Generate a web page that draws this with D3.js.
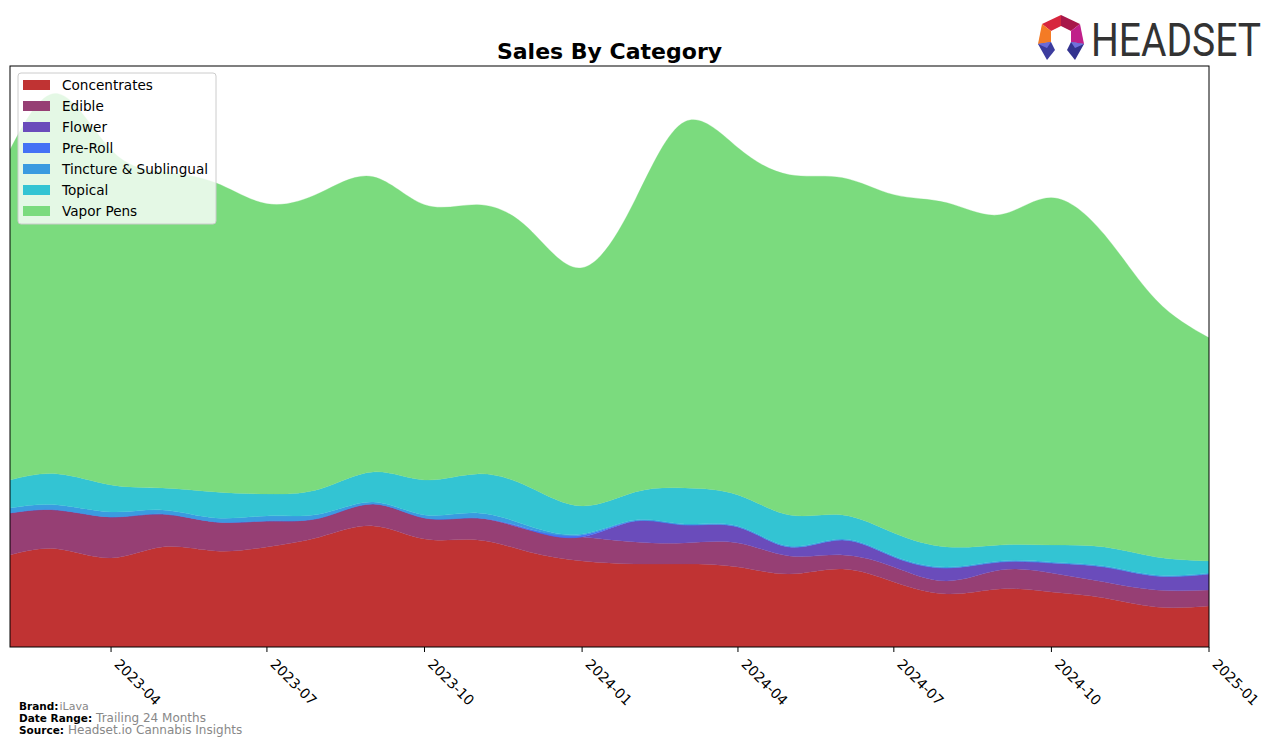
<!DOCTYPE html>
<html>
<head>
<meta charset="utf-8">
<script src="https://cdn.jsdelivr.net/npm/d3@7/dist/d3.min.js"></script>
<style>
  body { margin: 0; background: #fff; }
  svg { display: block; font-family: "DejaVu Sans", sans-serif; }
</style>
</head>
<body>
<svg id="chart" width="1276" height="746"></svg>
<script>
// ---- data ----
const months = ["2023-02","2023-03","2023-04","2023-05","2023-06","2023-07","2023-08","2023-09","2023-10","2023-11","2023-12","2024-01",
                "2024-02","2024-03","2024-04","2024-05","2024-06","2024-07","2024-08","2024-09","2024-10","2024-11","2024-12","2025-01"];
const categories = ["Concentrates","Edible","Flower","Pre-Roll","Tincture & Sublingual","Topical","Vapor Pens"];
const concentrates = [92, 98, 89,100, 96,100,110,121,108,107, 95, 86, 83, 83, 80, 73, 78, 65, 53, 58, 55, 49, 40, 41];
const edible       = [42, 39, 41, 33, 29, 26, 19, 22, 21, 22, 22, 24, 22, 21, 24, 18, 14, 15, 13, 19, 19, 16, 17, 16];
const flower       = [ 0,  0,  0,  0,  0,  0,  0,  0,  0,  0,  0,  0, 21, 18, 16,  9, 15, 10, 13,  8, 10, 15, 14, 16];
const preRoll      = [ 0,  0,  0,  0,  0,  0,  0,  0,  0,  0,  1,  2,  0,  0,  0,  0,  0,  0,  0,  0,  0,  0,  0,  0];
const tincture     = [ 5,  5,  5,  4,  4,  5,  4,  2,  3,  5,  3,  1,  1,  1,  1,  1,  1,  1,  1,  1,  1,  1,  1,  1];
const topical      = [28, 31, 27, 22, 26, 22, 25, 30, 35, 39, 39, 28, 28, 36, 31, 31, 24, 23, 20, 16, 17, 19, 18, 12];
const vaporPens    = [330,380,335,316,309,290,296,295,275,269,258,238,292,366,347,340,337,338,344,330,347,312,257,223];
const tickLabels = ["2023-04","2023-07","2023-10","2024-01","2024-04","2024-07","2024-10","2025-01"];
const colors = ["#c03333","#963f74","#6a4cbb","#4472f5","#3a9be0","#33c4d3","#7bdb7e"];

// ---- build table ----
const seriesArr = [concentrates, edible, flower, preRoll, tincture, topical, vaporPens];
const parse = d3.utcParse("%Y-%m");
const table = months.map((m, i) => {
  const row = { date: parse(m) };
  categories.forEach((c, k) => row[c] = seriesArr[k][i]);
  return row;
});

const svg = d3.select("#chart");
const pL = 10, pR = 1209, pT = 66, pB = 647;

const x = d3.scaleUtc().domain(d3.extent(table, d => d.date)).range([pL, pR]);
const stacked = d3.stack().keys(categories)(table);
const maxTotal = d3.max(table, d => d3.sum(categories, c => d[c]));
const y = d3.scaleLinear().domain([0, maxTotal * 1.05]).range([pB, pT]);

svg.append("defs").append("clipPath").attr("id", "plotclip")
  .append("rect").attr("x", pL).attr("y", pT).attr("width", pR - pL).attr("height", pB - pT);

const area = d3.area()
  .x(d => x(d.data.date))
  .y0(d => y(d[0]))
  .y1(d => y(d[1]))
  .curve(d3.curveNatural);

svg.append("g").attr("clip-path", "url(#plotclip)")
  .selectAll("path").data(stacked).join("path")
  .attr("d", area)
  .attr("fill", (d, i) => colors[i])
  .attr("stroke", (d, i) => colors[i])
  .attr("stroke-width", 0.3);

// frame
svg.append("rect").attr("x", pL).attr("y", pT).attr("width", pR - pL).attr("height", pB - pT)
  .attr("fill", "none").attr("stroke", "#000").attr("stroke-width", 1);

// x axis
const tickDates = tickLabels.map(t => parse(t));
const xAxis = svg.append("g").attr("transform", `translate(0,${pB})`);
xAxis.selectAll("line").data(tickDates).join("line")
  .attr("x1", d => x(d)).attr("x2", d => x(d)).attr("y1", 0).attr("y2", 5)
  .attr("stroke", "#000").attr("stroke-width", 1);
xAxis.selectAll("text").data(tickDates).join("text")
  .attr("transform", d => `translate(${x(d) + 2.5},${18}) rotate(45)`)
  .attr("font-size", 14).attr("fill", "#000")
  .text((d, i) => tickLabels[i]);

// title
svg.append("text").attr("x", (pL + pR) / 2).attr("y", 59).attr("text-anchor", "middle")
  .attr("font-size", 22).attr("font-weight", "bold").text("Sales By Category");

// legend
const lg = svg.append("g");
lg.append("rect").attr("x", 18).attr("y", 73).attr("width", 198).attr("height", 151).attr("rx", 3)
  .attr("fill", "#fff").attr("fill-opacity", 0.8).attr("stroke", "#cccccc");
categories.forEach((c, i) => {
  const yy = 85 + i * 21;
  lg.append("rect").attr("x", 23).attr("y", yy - 5).attr("width", 27).attr("height", 10).attr("fill", colors[i]);
  lg.append("text").attr("x", 62).attr("y", yy + 5).attr("font-size", 13.6).attr("fill", "#000").text(c);
});

// footer
const foot = [["Brand:", "iLava", 11], ["Date Range:", "Trailing 24 Months", 12], ["Source:", "Headset.io Cannabis Insights", 12]];
foot.forEach((f, i) => {
  const t = svg.append("text").attr("x", 19).attr("y", 710 + i * 11.8).attr("font-size", 10.5);
  t.append("tspan").attr("font-weight", "bold").attr("fill", "#000").text(f[0]);
  t.append("tspan").attr("fill", "#888").attr("font-size", f[2]).attr("dx", f[0] === "Brand:" ? 1 : 4).text(f[1]);
});

// logo
const logo = svg.append("g");
const polys = [
  [[[1042,24],[1061,15],[1061,26],[1051,31]], "#d7263d"],
  [[[1061,15],[1080,24],[1071,31],[1061,26]], "#a8174a"],
  [[[1042,24],[1051,31],[1051,42],[1038,44]], "#f47b25"],
  [[[1080,24],[1084,44],[1071,42],[1071,31]], "#c0208a"],
  [[[1038,44],[1051,42],[1055,50],[1047,60]], "#3c3c9e"],
  [[[1038,44],[1051,42],[1047,48]], "#6b6bd8"],
  [[[1084,44],[1071,42],[1067,50],[1075,60]], "#33338f"],
  [[[1084,44],[1071,42],[1075,48]], "#7070dc"]
];
polys.forEach(p => logo.append("polygon").attr("points", p[0].map(q => q.join(",")).join(" ")).attr("fill", p[1]));
logo.append("text").attr("transform", "translate(1091,56) scale(1,1.15)").attr("font-size", 40)
  .attr("font-family", "Roboto, 'DejaVu Sans', sans-serif").attr("fill", "#333")
  .attr("textLength", 170).attr("lengthAdjust", "spacingAndGlyphs").text("HEADSET");
</script>
</body>
</html>
